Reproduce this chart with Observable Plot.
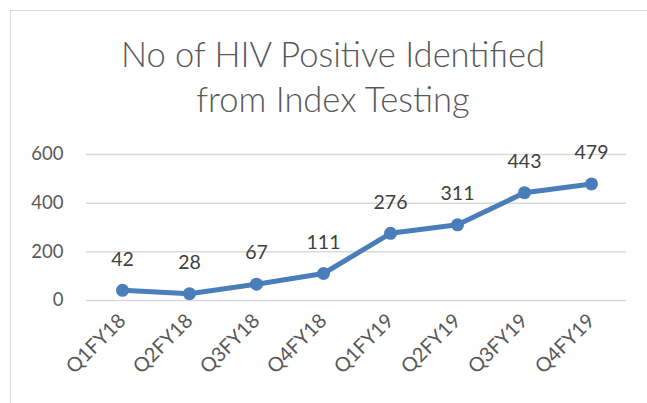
<!DOCTYPE html>
<html>
<head>
<meta charset="utf-8">
<script src="https://cdn.jsdelivr.net/npm/d3@7"></script>
<script src="https://cdn.jsdelivr.net/npm/@observablehq/plot@0.6"></script>
<style>
  html, body { margin: 0; padding: 0; background: #fff; }
  #wrap { position: relative; width: 647px; height: 403px; overflow: hidden; font-family: Lato, "Open Sans", sans-serif; }
  #frame { position: absolute; left: 10px; top: 10px; width: 700px; height: 500px; border-left: 1.5px solid #d9d9d9; border-top: 1.5px solid #d9d9d9; }
  #title { position: absolute; left: 0; width: 666px; top: 31px; text-align: center; font-size: 34.5px; line-height: 45px; color: #595959; font-weight: 300; }
  #chart { position: absolute; left: 0; top: 0; }
</style>
</head>
<body>
<div id="wrap">
  <div id="frame"></div>
  <div id="chart"></div>
  <div id="title">No of HIV Positive Identified<br>from Index Testing</div>
</div>
<script>
const quarters = ["Q1FY18", "Q2FY18", "Q3FY18", "Q4FY18", "Q1FY19", "Q2FY19", "Q3FY19", "Q4FY19"];
const positives = [42, 28, 67, 111, 276, 311, 443, 479];
const yTicks = [0, 200, 400, 600];

const data = quarters.map((q, i) => ({quarter: q, value: positives[i]}));
const blue = "#4a7ebb";

const chart = Plot.plot({
  width: 647,
  height: 403,
  marginTop: 154,
  marginBottom: 103,
  marginLeft: 86,
  marginRight: 21,
  style: {fontFamily: "Lato, 'Open Sans', sans-serif", background: "transparent"},
  x: {type: "point", domain: quarters, padding: 0.5, label: null},
  y: {domain: [0, 600], label: null},
  marks: [
    Plot.gridY(yTicks, {stroke: "#d9d9d9", strokeOpacity: 1, strokeWidth: 1.5}),
    Plot.axisY(yTicks, {tickSize: 0, tickPadding: 23, fontSize: 18.5, fill: "#595959", label: null}),
    Plot.axisX({tickSize: 0, tickRotate: -45, tickPadding: 17, fontSize: 20, fill: "#595959", label: null}),
    Plot.line(data, {x: "quarter", y: "value", stroke: blue, strokeWidth: 5}),
    Plot.dot(data, {x: "quarter", y: "value", r: 6.5, fill: blue}),
    Plot.text(data, {x: "quarter", y: "value", text: d => String(d.value), dy: -31, fontSize: 19.5, fill: "#404040"})
  ]
});
document.getElementById("chart").appendChild(chart);
</script>
</body>
</html>
